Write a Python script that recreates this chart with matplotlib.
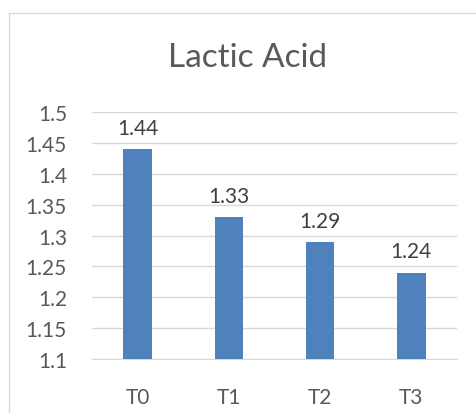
import matplotlib
matplotlib.use("Agg")
import matplotlib.pyplot as plt
from matplotlib.lines import Line2D

categories = ["T0", "T1", "T2", "T3"]
values = [1.44, 1.33, 1.29, 1.24]
yticks = [1.1, 1.15, 1.2, 1.25, 1.3, 1.35, 1.4, 1.45, 1.5]
ytick_labels = ["1.1", "1.15", "1.2", "1.25", "1.3", "1.35", "1.4", "1.45", "1.5"]

plt.rcParams['font.family'] = ['Lato', 'DejaVu Sans']

W, H = 477, 414
fig = plt.figure(figsize=(W/100, H/100), dpi=100)
fig.patch.set_facecolor('white')

# chart border (left and top visible)
fig.add_artist(Line2D([9/W, 9/W], [0, 1 - 14/H], transform=fig.transFigure, color='#d9d9d9', lw=1))
fig.add_artist(Line2D([9/W, 1], [1 - 14/H, 1 - 14/H], transform=fig.transFigure, color='#d9d9d9', lw=1))

ax = fig.add_axes([92/W, 1 - 360/H, (457-92)/W, (360-113)/H])
x = range(len(categories))
bars = ax.bar(x, values, width=0.31, color='#4f81bd', zorder=3)
ax.set_ylim(1.1, 1.5)
ax.set_xlim(-0.5, 3.5)
ax.set_yticks(yticks)
ax.set_yticklabels(ytick_labels)
ax.set_xticks(list(x))
ax.set_xticklabels(categories)
ax.tick_params(axis='both', length=0, labelsize=15, colors='#595959')
ax.tick_params(axis='x', pad=20)
ax.tick_params(axis='y', pad=18)
ax.grid(axis='y', color='#d9d9d9', lw=1, zorder=0)
for s in ax.spines.values():
    s.set_visible(False)
ax.spines['bottom'].set_visible(True)
ax.spines['bottom'].set_color('#d9d9d9')

for xi, v in zip(x, values):
    ax.annotate(f"{v:.2f}", (xi, v), xytext=(0, 8), textcoords='offset points',
                ha='center', va='bottom', fontsize=15, color='#404040')

fig.text(248/W, 1 - 58/H, "Lactic Acid", ha='center', va='center', fontsize=24, color='#595959')

fig.savefig("out.png", dpi=100)
